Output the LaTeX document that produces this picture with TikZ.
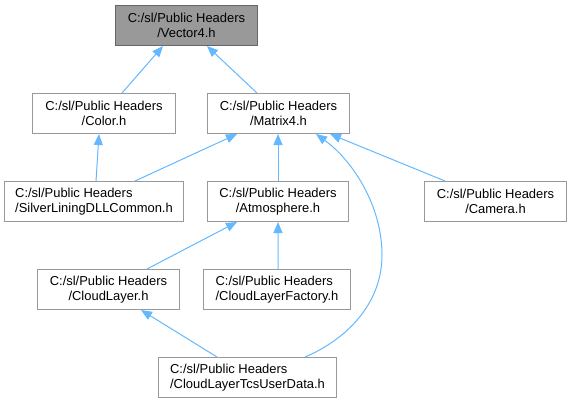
\documentclass[tikz,border=0pt]{standalone}
\usepackage{fontspec}
\setmainfont{Liberation Sans}
\usetikzlibrary{arrows.meta}
\definecolor{edgeblue}{HTML}{63B8FF}
\definecolor{boxgray}{HTML}{999999}
\definecolor{rootborder}{HTML}{666666}
\tikzset{
  box/.style={draw=boxgray, fill=white, line width=1bp, inner sep=0pt, anchor=north west,
    minimum height=40bp, align=center, font=\fontsize{13}{15}\selectfont},
  lbox/.style={box, align=left},
  rootbox/.style={box, fill=boxgray, draw=rootborder},
  edge/.style={draw=edgeblue, line width=1bp, -{Triangle[length=11bp,width=9bp]}}
}
\begin{document}
\begin{tikzpicture}[x=1bp,y=-1bp]
\useasboundingbox (0,0) rectangle (571,403);
\node[rootbox, minimum width=142bp] (v4) at (115,5) {C:/sl/Public Headers\\/Vector4.h};
\node[box, minimum width=143bp] (color) at (32,93) {C:/sl/Public Headers\\/Color.h};
\node[box, minimum width=142bp] (m4) at (207,93) {C:/sl/Public Headers\\/Matrix4.h};
\node[lbox, minimum width=179bp] (sl) at (4,181) {C:/sl/Public Headers\\/SilverLiningDLLCommon.h};
\node[box, minimum width=141bp] (atm) at (207,181) {C:/sl/Public Headers\\/Atmosphere.h};
\node[box, minimum width=142bp] (cam) at (424,181) {C:/sl/Public Headers\\/Camera.h};
\node[box, minimum width=142bp] (cl) at (37,269) {C:/sl/Public Headers\\/CloudLayer.h};
\node[lbox, minimum width=147bp] (clf) at (203,269) {C:/sl/Public Headers\\/CloudLayerFactory.h};
\node[lbox, minimum width=178bp] (tcs) at (158,357) {C:/sl/Public Headers\\/CloudLayerTcsUserData.h};

\draw[edge] ([xshift=90bp]color.north west) -- ([xshift=48bp]v4.south west);
\draw[edge] ([xshift=50bp]m4.north west) -- ([xshift=92bp]v4.south west);
\draw[edge] ([xshift=92bp]sl.north west) -- ([xshift=67bp]color.south west);
\draw[edge] ([xshift=131bp]sl.north west) -- ([xshift=30bp]m4.south west);
\draw[edge] ([xshift=71bp]atm.north west) -- ([xshift=71bp]m4.south west);
\draw[edge] ([xshift=21bp]cam.north west) -- ([xshift=123bp]m4.south west);
\draw[edge] ([xshift=147bp]tcs.north west) .. controls (345,340) and (382,305) .. (382,255)
  .. controls (382,205) and (352,160) .. ([xshift=109bp]m4.south west);
\draw[edge] ([xshift=110bp]cl.north west) -- ([xshift=30bp]atm.south west);
\draw[edge] ([xshift=75bp]clf.north west) -- ([xshift=71bp]atm.south west);
\draw[edge] ([xshift=59bp]tcs.north west) -- ([xshift=104bp]cl.south west);
\end{tikzpicture}
\end{document}
